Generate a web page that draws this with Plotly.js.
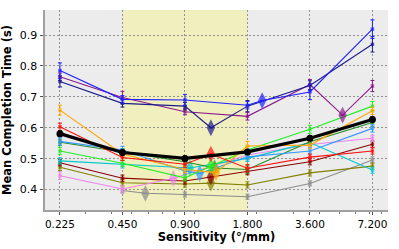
<!DOCTYPE html>
<html>
<head>
<meta charset="utf-8">
<script src="https://cdn.plot.ly/plotly-3.0.1.min.js"></script>
<style>html,body{margin:0;padding:0;background:#fff;}#chart{width:399px;height:249px;}</style>
</head>
<body>
<div id="chart"></div>
<script>
// Sensitivity levels (°/mm)
const sensitivities = [0.225, 0.45, 0.9, 1.8, 3.6, 7.2];
const tickLabels = ["0.225", "0.450", "0.900", "1.800", "3.600", "7.200"];

// Per-participant mean completion times (s) at each sensitivity, error bars, and estimated optimum [x, y]
const blueY = [0.785, 0.692, 0.690, 0.673, 0.716, 0.919];
const blueErr = [0.025, 0.012, 0.018, 0.012, 0.025, 0.03];
const blueOpt = [2.12, 0.688];

const navyY = [0.750, 0.679, 0.670, 0.670, 0.737, 0.870];
const navyErr = [0.018, 0.012, 0.012, 0.018, 0.015, 0.025];
const navyOpt = [1.20, 0.600];

const purpleY = [0.765, 0.698, 0.652, 0.637, 0.740, 0.735];
const purpleErr = [0.012, 0.02, 0.01, 0.012, 0.016, 0.018];
const purpleOpt = [5.17, 0.641];

const orangeY = [0.657, 0.515, 0.465, 0.541, 0.544, 0.655];
const orangeErr = [0.016, 0.012, 0.01, 0.015, 0.012, 0.012];
const orangeOpt = [1.27, 0.455];

const redY = [0.603, 0.504, 0.482, 0.469, 0.505, 0.525];
const redErr = [0.012, 0.01, 0.01, 0.012, 0.01, 0.01];
const redOpt = [1.20, 0.515];

const limeY = [0.525, 0.485, 0.438, 0.528, 0.595, 0.670];
const limeErr = [0.012, 0.01, 0.01, 0.012, 0.013, 0.015];
const limeOpt = [1.20, 0.476];

const greenY = [0.553, 0.522, 0.490, 0.465, 0.555, 0.617];
const greenErr = [0.01, 0.01, 0.01, 0.012, 0.012, 0.012];
const greenOpt = [1.25, 0.470];

const dodgerY = [0.556, 0.528, 0.460, 0.506, 0.525, 0.598];
const dodgerErr = [0.012, 0.012, 0.01, 0.01, 0.01, 0.012];
const dodgerOpt = [1.06, 0.452];

const cyanY = [0.493, 0.482, 0.472, 0.501, 0.552, 0.463];
const cyanErr = [0.01, 0.012, 0.01, 0.01, 0.01, 0.01];
const cyanOpt = [0.95, 0.470];

const darkredY = [0.487, 0.437, 0.428, 0.458, 0.490, 0.547];
const darkredErr = [0.01, 0.01, 0.01, 0.01, 0.01, 0.01];
const darkredOpt = [1.20, 0.441];

const oliveY = [0.472, 0.422, 0.418, 0.415, 0.454, 0.476];
const oliveErr = [0.01, 0.01, 0.01, 0.01, 0.01, 0.01];
const oliveOpt = [1.20, 0.421];

const violetY = [0.445, 0.402, 0.449, 0.512, 0.546, 0.566];
const violetErr = [0.012, 0.01, 0.01, 0.01, 0.01, 0.01];
const violetOpt = [0.79, 0.436];

const grayY = [null, 0.397, 0.384, 0.377, 0.420, 0.496];
const grayErr = [0, 0.008, 0.008, 0.008, 0.008, 0.01];
const grayOpt = [0.58, 0.388];

// Mean across participants
const meanY = [0.581, 0.520, 0.501, 0.522, 0.566, 0.627];
const meanErr = [0.008, 0.008, 0.007, 0.007, 0.008, 0.008];

const seriesList = [
  {y: grayY, err: grayErr, opt: grayOpt, color: "#8c8c8c"},
  {y: oliveY, err: oliveErr, opt: oliveOpt, color: "#808000"},
  {y: darkredY, err: darkredErr, opt: darkredOpt, color: "#8b0000"},
  {y: violetY, err: violetErr, opt: violetOpt, color: "#ee82ee"},
  {y: cyanY, err: cyanErr, opt: cyanOpt, color: "#00c8c8"},
  {y: greenY, err: greenErr, opt: greenOpt, color: "#228b22"},
  {y: dodgerY, err: dodgerErr, opt: dodgerOpt, color: "#3399ff"},
  {y: limeY, err: limeErr, opt: limeOpt, color: "#22ee22"},
  {y: orangeY, err: orangeErr, opt: orangeOpt, color: "#ffa500"},
  {y: redY, err: redErr, opt: redOpt, color: "#ff1010"},
  {y: purpleY, err: purpleErr, opt: purpleOpt, color: "#8b1a8b"},
  {y: navyY, err: navyErr, opt: navyOpt, color: "#1a1a8c"},
  {y: blueY, err: blueErr, opt: blueOpt, color: "#1f1fff"}
];

const traces = [];
seriesList.forEach(s => {
  const pts = [];
  sensitivities.forEach((x, i) => {
    if (s.y[i] !== null) pts.push({x: x, y: s.y[i], e: s.err[i], opt: false});
  });
  pts.push({x: s.opt[0], y: s.opt[1], e: 0, opt: true});
  pts.sort((a, b) => a.x - b.x);
  traces.push({
    type: "scatter", mode: "lines+markers",
    x: pts.map(p => p.x), y: pts.map(p => p.y),
    line: {color: s.color, width: 1.1},
    marker: {
      color: s.color,
      symbol: pts.map(p => p.opt ? "diamond-tall" : "square"),
      size: pts.map(p => p.opt ? 12 : 3.5),
      line: {width: 0}
    },
    error_y: {type: "data", array: pts.map(p => p.e), visible: true, color: s.color, thickness: 1, width: 2},
    hoverinfo: "skip", showlegend: false
  });
});
traces.push({
  type: "scatter", mode: "lines+markers",
  x: sensitivities, y: meanY,
  line: {color: "#000", width: 3.2},
  marker: {color: "#000", symbol: "circle", size: 7},
  error_y: {type: "data", array: meanErr, visible: true, color: "#000", thickness: 1.2, width: 2},
  showlegend: false
});

const minorVals = [0.3, 0.4, 0.5, 0.6, 0.7, 0.8, 1, 2, 3, 4, 5, 6, 7, 8];

const layout = {
  width: 399, height: 249,
  margin: {l: 45, r: 11, t: 10, b: 39},
  paper_bgcolor: "#ffffff",
  plot_bgcolor: "rgb(236,236,236)",
  font: {family: "DejaVu Sans", color: "#000", size: 10},
  xaxis: {
    type: "log",
    range: [Math.log10(0.225) - 0.072, Math.log10(7.2) + 0.075],
    tickmode: "array", tickvals: sensitivities, ticktext: tickLabels,
    ticks: "outside", ticklen: 3, tickcolor: "#555",
    tickfont: {size: 10.5, family: "DejaVu Sans"},
    showgrid: true, gridcolor: "#888888", griddash: "2px,2px", gridwidth: 0.9,
    showline: true, linecolor: "#a0a0a0", linewidth: 2, mirror: false,
    zeroline: false,
    minor: {tickmode: "array", tickvals: minorVals, ticks: "outside", ticklen: 2, tickcolor: "#777", showgrid: false},
    title: {text: "Sensitivity (°/mm)", font: {size: 11.5, family: "DejaVu Sans", weight: "bold"}, standoff: 4}
  },
  yaxis: {
    range: [0.334, 0.981],
    tickmode: "array", tickvals: [0.4, 0.5, 0.6, 0.7, 0.8, 0.9], ticktext: ["0.4", "0.5", "0.6", "0.7", "0.8", "0.9"],
    ticks: "outside", ticklen: 3, tickcolor: "#555",
    tickfont: {size: 11, family: "DejaVu Sans"},
    showgrid: true, gridcolor: "#888888", griddash: "2px,2px", gridwidth: 0.9,
    showline: true, linecolor: "#a0a0a0", linewidth: 2.5, mirror: false,
    zeroline: false,
    title: {text: "Mean Completion Time (s)", font: {size: 11.5, family: "DejaVu Sans", weight: "bold"}, standoff: 6}
  },
  shapes: [{
    type: "rect", xref: "x", yref: "paper", layer: "below",
    x0: 0.45, x1: 1.8, y0: 0, y1: 1,
    fillcolor: "rgb(241,239,190)", line: {width: 0}
  }]
};

Plotly.newPlot("chart", traces, layout, {staticPlot: true, displayModeBar: false});
</script>
</body>
</html>
